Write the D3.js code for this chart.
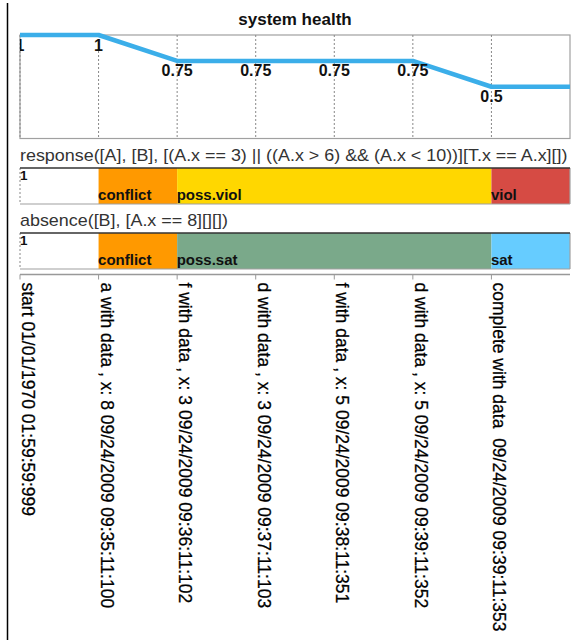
<!DOCTYPE html>
<html>
<head>
<meta charset="utf-8">
<script src="https://cdn.jsdelivr.net/npm/d3@7"></script>
<style>
  html, body { margin: 0; padding: 0; background: #fff; }
  svg { display: block; font-family: "Liberation Sans", Arial, sans-serif; }
  text { white-space: pre; }
</style>
</head>
<body>
<svg id="chart" width="580" height="640"></svg>
<script>
// ---- data ----
const events = [
  "start 01/01/1970 01:59:59:999",
  "a with data , x: 8 09/24/2009 09:35:11:100",
  "f with data , x: 3 09/24/2009 09:36:11:102",
  "d with data , x: 3 09/24/2009 09:37:11:103",
  "f with data , x: 5 09/24/2009 09:38:11:351",
  "d with data , x: 5 09/24/2009 09:39:11:352",
  "complete with data  09/24/2009 09:39:11:353"
];
const healthValues = [1, 1, 0.75, 0.75, 0.75, 0.75, 0.5];
const healthLabels = ["1", "1", "0.75", "0.75", "0.75", "0.75", "0.5"];
const chartTitle = "system health";

const constraintNames = [
  "response([A], [B], [(A.x == 3) || ((A.x > 6) && (A.x < 10))][T.x == A.x][])",
  "absence([B], [A.x == 8][][])"
];
const responseStates = ["init", "conflict", "poss.viol", "poss.viol", "poss.viol", "poss.viol", "viol"];
const absenceStates  = ["init", "conflict", "poss.sat", "poss.sat", "poss.sat", "poss.sat", "sat"];
const initialLabel = "1";

const stateColors = {
  "init": "#ffffff",
  "conflict": "#ff9900",
  "poss.viol": "#ffd700",
  "viol": "#d64b44",
  "poss.sat": "#7aa98a",
  "sat": "#66ccff"
};

// ---- layout ----
const svg = d3.select("#chart");
const left = 20, right = 570;
const x = d3.scaleLinear().domain([0, events.length]).range([left, right]);
const plotTop = 35, plotBottom = 138.5;
const y = d3.scaleLinear().domain([0, 1]).range([plotBottom, plotTop]);

// window edge line
svg.append("line").attr("x1", 7.5).attr("x2", 7.5).attr("y1", 3).attr("y2", 640)
  .attr("stroke", "#000").attr("stroke-width", 1.5);

// title
svg.append("text").attr("x", (left + right) / 2).attr("y", 25)
  .attr("text-anchor", "middle").attr("font-weight", "bold").attr("font-size", 17)
  .attr("fill", "#111").text(chartTitle);

// clip for top plot
svg.append("clipPath").attr("id", "plotclip").append("rect")
  .attr("x", left).attr("y", plotTop - 3).attr("width", right - left).attr("height", plotBottom - plotTop + 3);

// frame
svg.append("rect").attr("x", left).attr("y", plotTop).attr("width", right - left)
  .attr("height", plotBottom - plotTop).attr("fill", "none").attr("stroke", "#a0a0a0").attr("stroke-width", 1.2);

// grid lines
svg.append("g").selectAll("line").data(d3.range(events.length)).join("line")
  .attr("x1", i => x(i)).attr("x2", i => x(i))
  .attr("y1", plotTop).attr("y2", plotBottom)
  .attr("stroke", "#888").attr("stroke-width", 1).attr("stroke-dasharray", "2,2");

// health line
const linePts = healthValues.map((v, i) => [i, v]).concat([[events.length, healthValues[healthValues.length - 1]]]);
svg.append("path").datum(linePts)
  .attr("d", d3.line().x(d => x(d[0])).y(d => y(d[1])))
  .attr("fill", "none").attr("stroke", "#3baee9").attr("stroke-width", 4.5)
  .attr("stroke-linejoin", "round");

// value labels
svg.append("g").attr("clip-path", "url(#plotclip)").selectAll("text").data(healthValues).join("text")
  .attr("x", (d, i) => x(i)).attr("y", d => y(d) + 15.5)
  .attr("text-anchor", "middle").attr("font-weight", "bold").attr("font-size", 16)
  .attr("fill", "#111").text((d, i) => healthLabels[i]);

// ---- constraint bars ----
function runs(states) {
  const out = [];
  states.forEach((s, i) => {
    if (out.length && out[out.length - 1].state === s) out[out.length - 1].end = i + 1;
    else out.push({ state: s, start: i, end: i + 1 });
  });
  return out;
}

const bars = [
  { name: constraintNames[0], states: responseStates, top: 168 },
  { name: constraintNames[1], states: absenceStates, top: 233 }
];
const barH = 36;

bars.forEach(b => {
  const g = svg.append("g");
  g.append("text")
    .attr("transform", `translate(${left},${b.top - 7}) scale(1.12,1)`)
    .attr("font-size", 16).attr("fill", "#333").text(b.name);
  const r = runs(b.states);
  g.selectAll("rect.seg").data(r).join("rect").attr("class", "seg")
    .attr("x", d => x(d.start)).attr("y", b.top)
    .attr("width", d => x(d.end) - x(d.start)).attr("height", barH)
    .attr("fill", d => stateColors[d.state]);
  // borders
  g.append("line").attr("x1", right).attr("x2", right).attr("y1", b.top).attr("y2", b.top + barH)
    .attr("stroke", "#a0a0a0").attr("stroke-width", 1.2);
  g.append("line").attr("x1", left).attr("x2", right).attr("y1", b.top + barH).attr("y2", b.top + barH)
    .attr("stroke", "#a0a0a0").attr("stroke-width", 1.2);
  g.append("line").attr("x1", left).attr("x2", left).attr("y1", b.top).attr("y2", b.top + barH)
    .attr("stroke", "#888").attr("stroke-width", 1).attr("stroke-dasharray", "2,2");
  g.append("line").attr("x1", left).attr("x2", right).attr("y1", b.top).attr("y2", b.top)
    .attr("stroke", "#333").attr("stroke-width", 1.6);
  // labels
  g.append("text").attr("x", left).attr("y", b.top + 11.5)
    .attr("font-size", 13.5).attr("font-weight", "bold").attr("fill", "#111").text(initialLabel);
  g.selectAll("text.st").data(r.filter(d => d.state !== "init")).join("text").attr("class", "st")
    .attr("x", d => x(d.start) - 0.5).attr("y", b.top + barH - 4)
    .attr("font-size", 15).attr("font-weight", "bold").attr("fill", "#111").text(d => d.state);
});

// ---- bottom event axis ----
const axisY = 274.5;
svg.append("line").attr("x1", left).attr("x2", right).attr("y1", axisY).attr("y2", axisY)
  .attr("stroke", "#999").attr("stroke-width", 1.5);
svg.append("g").selectAll("line").data(d3.range(events.length)).join("line")
  .attr("x1", i => x(i)).attr("x2", i => x(i)).attr("y1", axisY).attr("y2", axisY + 5)
  .attr("stroke", "#999").attr("stroke-width", 1);
svg.append("g").selectAll("text").data(events).join("text")
  .attr("transform", (d, i) => `translate(${x(i) + 2},${axisY + 8}) rotate(90)`)
  .attr("font-size", 17.5).attr("fill", "#000").attr("stroke", "#000").attr("stroke-width", 0.25)
  .text(d => d);
</script>
</body>
</html>
